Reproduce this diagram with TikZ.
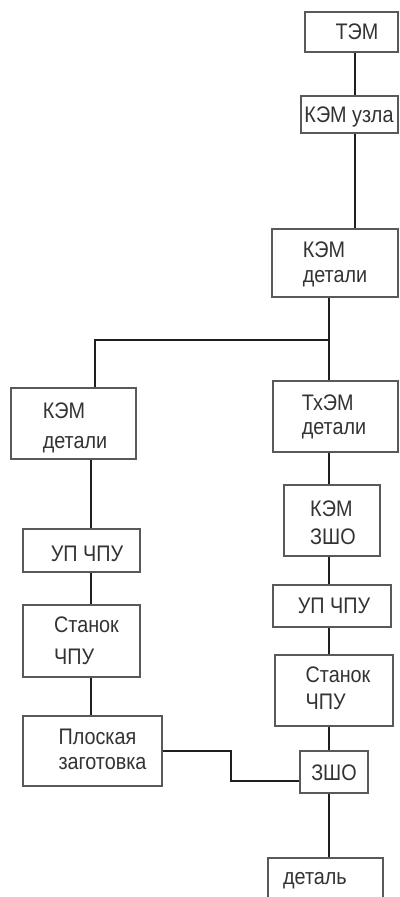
\documentclass[tikz,border=0pt]{standalone}
\usepackage{fontspec}
\setmainfont{Liberation Sans}
\newfontfamily\narrowface[FakeStretch=0.88]{Liberation Sans}
\usetikzlibrary{calc}
\begin{document}
\begin{tikzpicture}[x=1pt,y=-1pt,
  blk/.style={draw=black!65,line width=1.1pt,rectangle,inner sep=0pt},
  lbl/.style={text=black!80,align=left,inner sep=0pt,anchor=north,
    font=\narrowface\fontsize{22.5}{#1}\selectfont},
  lbl/.default=28,
  conn/.style={draw=black!88,line width=2.5pt}]
\clip (0,0) rectangle (399,897);
\fill[white] (0,0) rectangle (399,897);

% blocks (centre, width, height)
\node[blk,minimum width=93pt,minimum height=40pt]  (tem)   at (351.5,32)  {};
\node[blk,minimum width=97pt,minimum height=37pt]  (uzla)  at (349.5,114.5) {};
\node[blk,minimum width=126pt,minimum height=68pt] (kd1)   at (335,263)   {};
\node[blk,minimum width=125pt,minimum height=71pt] (kd2)   at (73.5,423.5) {};
\node[blk,minimum width=125pt,minimum height=71pt] (txem)  at (335.5,416.5) {};
\node[blk,minimum width=96pt,minimum height=71pt]  (kzsho) at (332,520.5) {};
\node[blk,minimum width=117pt,minimum height=43pt] (up1)   at (81.5,550.5) {};
\node[blk,minimum width=118pt,minimum height=42pt] (up2)   at (332,606)   {};
\node[blk,minimum width=117pt,minimum height=72pt] (st1)   at (81.5,641)  {};
\node[blk,minimum width=118pt,minimum height=71pt] (st2)   at (334,690.5) {};
\node[blk,minimum width=139pt,minimum height=70pt] (plosk) at (92.5,751)  {};
\node[blk,minimum width=68pt,minimum height=42pt]  (zsho)  at (334,772)   {};
\node[blk,minimum width=115pt,minimum height=52pt] (det)   at (325.5,884) {};

% labels (placed by the top of their first line)
\node[lbl]    (tem-t)   at (357,24)   {ТЭМ};
\node[lbl]    (uzla-t)  at (349,107)  {КЭМ узла};
\node[lbl=25] (kd1-t)   at (335,242)  {КЭМ\\детали};
\node[lbl=30] (kd2-t)   at (75,403)   {КЭМ\\детали};
\node[lbl=24] (txem-t)  at (334,395)  {ТхЭМ\\детали};
\node[lbl=28] (kzsho-t) at (333,501)  {КЭМ\\ЗШО};
\node[lbl]    (up1-t)   at (87,546)   {УП ЧПУ};
\node[lbl]    (up2-t)   at (334,598)  {УП ЧПУ};
\node[lbl=32] (st1-t)   at (86.5,617) {Станок\\ЧПУ};
\node[lbl=27] (st2-t)   at (338,667)  {Станок\\ЧПУ};
\node[lbl=25] (plosk-t) at (102.5,729) {Плоская\\заготовка};
\node[lbl]    (zsho-t)  at (334,765)  {ЗШО};
\node[lbl]    (det-t)   at (315,872)  {деталь};

% guide coordinates for the connector runs
\coordinate (tA) at (355,0);
\coordinate (split) at (329,340);
\coordinate (lA) at (95,0);
\coordinate (lB) at (91,0);
\coordinate (jog) at (231,0);
\coordinate (zin) at ($(zsho.west)+(0,9)$);

% connectors
\draw[conn] (tem.south -| tA) -- (uzla.north -| tA);
\draw[conn] (uzla.south -| tA) -- (kd1.north -| tA);
\draw[conn] (kd1.south -| split) -- (txem.north -| split);
\draw[conn] (split) -| (kd2.north -| lA);
\draw[conn] (kd2.south -| lB) -- (up1.north -| lB);
\draw[conn] (up1.south -| lB) -- (st1.north -| lB);
\draw[conn] (st1.south -| lB) -- (plosk.north -| lB);
\draw[conn] (txem.south -| split) -- (kzsho.north -| split);
\draw[conn] (kzsho.south -| split) -- (up2.north -| split);
\draw[conn] (up2.south -| split) -- (st2.north -| split);
\draw[conn] (st2.south -| split) -- (zsho.north -| split);
\draw[conn] (zsho.south -| split) -- (det.north -| split);
\draw[conn] (plosk.east) -| (jog |- zin) -- (zin);
\end{tikzpicture}
\end{document}
